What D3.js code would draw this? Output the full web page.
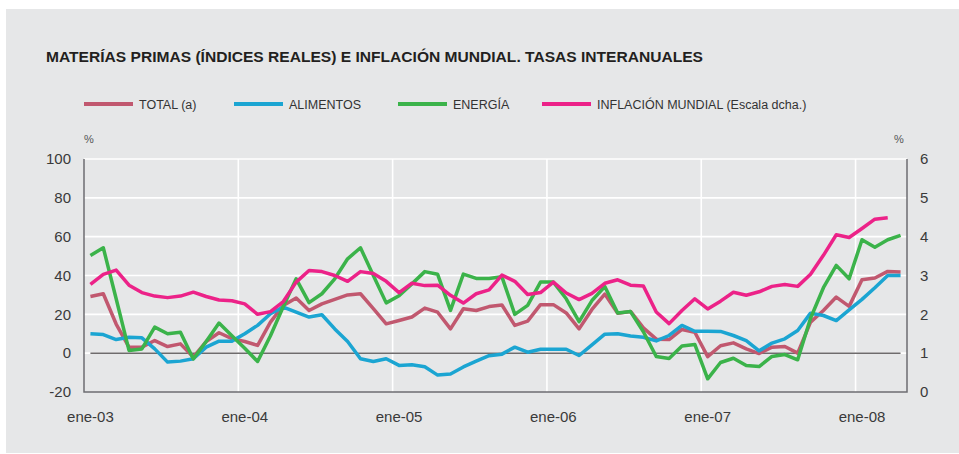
<!DOCTYPE html>
<html>
<head>
<meta charset="utf-8">
<style>
    body {
        margin: 0;
        background: #fff;
    }

    svg {
        display: block;
        font-family: 'Liberation Sans', Arial, sans-serif;
    }

    .axis .tick text {
        font-size: 15px;
        fill: #3a3a3a;
    }

    .axis .domain {
        display: none;
    }

    .title {
        font-size: 14px;
        font-weight: bold;
        fill: #231f20;
    }

    .legend text {
        font-size: 12.5px;
        fill: #333;
    }

    .unit {
        font-size: 11px;
        fill: #555;
    }
</style>
</head>
<body>
<svg width="959" height="454"></svg>

<script src="https://cdn.jsdelivr.net/npm/d3@7"></script>
<script>
    // month labels: ene-03 ... abr-08
    let monthNames = ["ene", "feb", "mar", "abr", "may", "jun", "jul", "ago", "sep", "oct", "nov", "dic"]
    let years = ["03", "04", "05", "06", "07", "08"]

    let months = []
    years.forEach(yy => monthNames.forEach(m => months.push(m + "-" + yy)))
    months = months.slice(0, 64)

    let xTicks = ["ene-03", "ene-04", "ene-05", "ene-06", "ene-07", "ene-08"]
    let yTicksLeft = [-20, 0, 20, 40, 60, 80, 100]
    let yTicksRight = [0, 1, 2, 3, 4, 5, 6]

    // series, % interanual (left scale)
    let total = [29.2, 30.6, 15, 3.1, 3.1, 6.5, 3.4, 4.8, -2, 6,
        10.5, 7.5, 6, 4, 16, 24.6, 28.4, 22, 25.4, 27.7,
        30, 30.6, 22.9, 15.1, 16.8, 18.6, 23.2, 21.1, 12.5, 22.9,
        22, 24, 24.8, 14.3, 16.5, 25, 25, 20.7, 12.5, 22.5,
        30.4, 20.5, 21.5, 13, 7.2, 7, 12.2, 10.8, -1.8, 3.8,
        5.3, 2.2, -0.2, 3.1, 3.4, 0, 16, 22, 28.9, 24.1,
        37.8, 38.7, 42.1, 41.8]

    let alimentos = [10, 9.6, 7, 8.2, 7.9, 2.2, -4.6, -4.1, -2.9, 3.1,
        6.2, 6.2, 10, 14.3, 20.3, 23.7, 21.1, 18.6, 19.8, 12.5,
        6, -2.9, -4.3, -2.9, -6.3, -6, -7, -11.3, -10.7, -7.1,
        -4.1, -1.3, -0.5, 3.1, 0.5, 2, 2, 2, -1.2, 4.3,
        9.8, 10, 8.8, 8.2, 6.3, 9.1, 14.3, 11.3, 11.3, 11.2,
        9.1, 6.5, 1.2, 5.2, 7.4, 11.7, 20.6, 19.4, 16.8, 22.3,
        27.7, 33.7, 40, 40]

    let energia = [50.3, 54.3, 28, 1.4, 2.2, 13.4, 10, 10.8, -3, 6,
        15.5, 9, 2.5, -4.3, 9, 24, 38.3, 26, 30.6, 38.3,
        48.6, 54.3, 40, 25.9, 29.6, 35.7, 42, 40.6, 22, 40.7,
        38.5, 38.5, 39.3, 20, 24.6, 36.6, 36.6, 28, 16.2, 27.1,
        34.3, 20.7, 21.4, 11, -1.7, -2.7, 3.7, 4.5, -13.2, -4.8,
        -2.6, -6.4, -6.9, -1.7, -0.7, -3.4, 18, 33.7, 45.2, 38.3,
        58.4, 54.6, 58.4, 60.7]

    // inflacion mundial (right scale)
    let inflacion = [2.77, 3.03, 3.14, 2.75, 2.56, 2.47, 2.43, 2.47, 2.57, 2.46,
        2.37, 2.35, 2.27, 2.0, 2.07, 2.33, 2.83, 3.13, 3.1, 3.0,
        2.85, 3.1, 3.05, 2.85, 2.56, 2.8, 2.74, 2.75, 2.49, 2.29,
        2.53, 2.63, 3.01, 2.85, 2.51, 2.56, 2.83, 2.55, 2.38, 2.54,
        2.8, 2.89, 2.75, 2.73, 2.06, 1.76, 2.1, 2.4, 2.14, 2.34,
        2.57, 2.49, 2.58, 2.72, 2.77, 2.72, 3.03, 3.52, 4.05, 3.98,
        4.21, 4.45, 4.49]

    let seriesNames = ["TOTAL (a)", "ALIMENTOS", "ENERGÍA", "INFLACIÓN MUNDIAL (Escala dcha.)"]
    let seriesColors = ["#c1586f", "#1ba5d2", "#3bb34a", "#ec2288"]

    let margin = { top: 159, right: 52, bottom: 62, left: 84 }
    let width = 959
    let height = 454

    let svg = d3.select("svg")

    // grey panel
    svg.append("rect")
        .attr("x", 6)
        .attr("y", 9)
        .attr("width", 953)
        .attr("height", 444)
        .attr("fill", "#e6e7e8")

    let x = d3.scaleBand()
        .domain(months)
        .range([margin.left, width - margin.right])

    let xc = d => x(d) + x.bandwidth() / 2

    let y = d3.scaleLinear()
        .domain([-20, 100])
        .range([height - margin.bottom, margin.top])

    let yR = d3.scaleLinear()
        .domain([0, 6])
        .range([height - margin.bottom, margin.top])

    // grid
    let grid = svg.append("g")
    grid.selectAll(".hgrid")
        .data(yTicksLeft.filter(d => d > -20))
        .join("line")
        .attr("x1", margin.left)
        .attr("x2", width - margin.right)
        .attr("y1", d => y(d))
        .attr("y2", d => y(d))
        .attr("stroke", "#fff")
        .attr("stroke-width", 1.6)

    grid.selectAll(".vgrid")
        .data(xTicks.slice(1))
        .join("line")
        .attr("x1", d => x(d))
        .attr("x2", d => x(d))
        .attr("y1", margin.top)
        .attr("y2", height - margin.bottom)
        .attr("stroke", "#fff")
        .attr("stroke-width", 1.6)

    // zero line
    svg.append("line")
        .attr("x1", xc(months[0]))
        .attr("x2", xc(months[months.length - 1]))
        .attr("y1", y(0))
        .attr("y2", y(0))
        .attr("stroke", "#231f20")
        .attr("stroke-width", 1)

    // frame lines (left, bottom, right)
    svg.append("path")
        .attr("d", `M${margin.left},${margin.top} V${height - margin.bottom} H${width - margin.right} V${margin.top}`)
        .attr("fill", "none")
        .attr("stroke", "#6d6e71")
        .attr("stroke-width", 1.5)

    // axes (plain hyphen for negatives, no decimals)
    let plain = d => String(d)

    svg.append("g")
        .attr("class", "axis")
        .attr("transform", `translate(${margin.left},0)`)
        .call(d3.axisLeft(y).tickValues(yTicksLeft).tickSize(0).tickPadding(13).tickFormat(plain))

    svg.append("g")
        .attr("class", "axis")
        .attr("transform", `translate(${width - margin.right},0)`)
        .call(d3.axisRight(yR).tickValues(yTicksRight).tickSize(0).tickPadding(13).tickFormat(plain))

    svg.append("g")
        .attr("class", "axis")
        .attr("transform", `translate(0,${height - margin.bottom})`)
        .call(d3.axisBottom(x).tickValues(xTicks).tickSize(0).tickPadding(19))

    // lines
    let lineL = d3.line()
        .x((d, i) => xc(months[i]))
        .y(d => y(d))

    let lineR = d3.line()
        .x((d, i) => xc(months[i]))
        .y(d => yR(d))

    let allSeries = [
        { values: total, line: lineL },
        { values: alimentos, line: lineL },
        { values: energia, line: lineL },
        { values: inflacion, line: lineR }
    ]

    svg.append("g")
        .selectAll("path")
        .data(allSeries)
        .join("path")
        .attr("d", d => d.line(d.values))
        .attr("fill", "none")
        .attr("stroke", (d, i) => seriesColors[i])
        .attr("stroke-width", 3.5)
        .attr("stroke-linejoin", "round")

    // title
    svg.append("text")
        .attr("class", "title")
        .attr("x", 46)
        .attr("y", 62)
        .attr("textLength", 657)
        .attr("lengthAdjust", "spacingAndGlyphs")
        .text("MATERÍAS PRIMAS (ÍNDICES REALES) E INFLACIÓN MUNDIAL. TASAS INTERANUALES")

    // legend
    let legendX = [84, 234, 398, 542]
    let legend = svg.append("g").attr("class", "legend")
    seriesNames.forEach((name, i) => {
        legend.append("line")
            .attr("x1", legendX[i])
            .attr("x2", legendX[i] + 49)
            .attr("y1", 104)
            .attr("y2", 104)
            .attr("stroke", seriesColors[i])
            .attr("stroke-width", 4)
        legend.append("text")
            .attr("x", legendX[i] + 55)
            .attr("y", 108.5)
            .text(name)
    })

    // % units
    svg.append("text")
        .attr("class", "unit")
        .attr("x", 84)
        .attr("y", 143)
        .text("%")

    svg.append("text")
        .attr("class", "unit")
        .attr("x", 894)
        .attr("y", 143)
        .text("%")
</script>
</body>
</html>
